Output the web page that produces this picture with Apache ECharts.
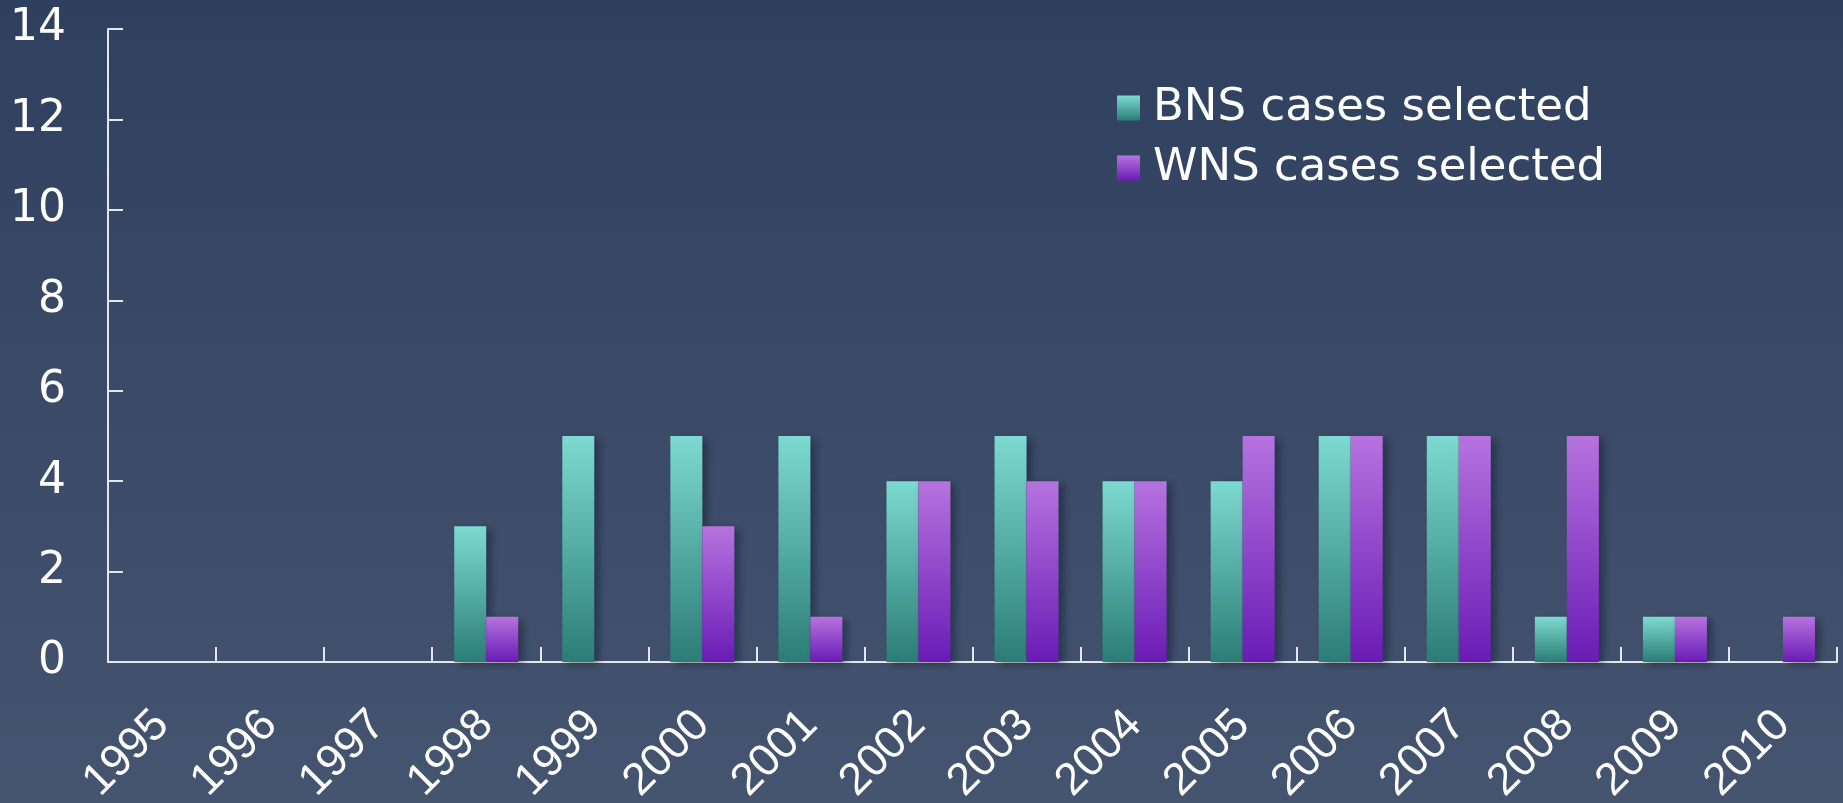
<!DOCTYPE html>
<html>
<head>
<meta charset="utf-8">
<script src="https://cdn.jsdelivr.net/npm/echarts@6/dist/echarts.min.js"></script>
<style>
	html, body { margin: 0; padding: 0; }
	#main { width: 1843px; height: 803px; }
</style>
</head>
<body>
<div id="main"></div>
<script>
	// data
	var years = ['1995', '1996', '1997', '1998', '1999', '2000', '2001', '2002',
		'2003', '2004', '2005', '2006', '2007', '2008', '2009', '2010'];
	var bnsCases = [0, 0, 0, 3, 5, 5, 5, 4, 5, 4, 4, 5, 5, 1, 1, 0];
	var wnsCases = [0, 0, 0, 1, 0, 3, 1, 4, 4, 4, 5, 5, 5, 5, 1, 1];
	var seriesNames = ['BNS cases selected', 'WNS cases selected'];

	var fontName = 'DejaVu Sans';
	var labelFont = 'Liberation Sans';
	var axisColor = '#e4e6ea';

	// vertical gradient for the bars
	var barGradient = function(top, bottom) {
		return new echarts.graphic.LinearGradient(0, 0, 0, 1, [
			{ offset: 0, color: top },
			{ offset: 1, color: bottom }
		]);
	};

	var barStyle = function(top, bottom) {
		return {
			color: barGradient(top, bottom),
			shadowColor: 'rgba(10, 20, 40, 0.45)',
			shadowBlur: 8,
			shadowOffsetX: 5,
			shadowOffsetY: 3
		};
	};

	var chart = echarts.init(document.getElementById('main'));

	var option = {
		animation: false,
		backgroundColor: barGradient('#2f405f', '#45546f'),
		grid: {
			left: 108,
			right: 6,
			top: 29,
			bottom: 141,
			containLabel: false,
			outerBoundsMode: 'none'
		},
		legend: {
			orient: 'vertical',
			left: 1112,
			top: 78,
			itemWidth: 23,
			itemHeight: 25,
			itemGap: 10,
			icon: 'rect',
			data: seriesNames,
			textStyle: {
				color: '#ffffff',
				fontFamily: fontName,
				fontSize: 45,
				lineHeight: 50,
				padding: [0, 0, 0, 8]
			}
		},
		xAxis: {
			type: 'category',
			data: years,
			axisLine: {
				lineStyle: { color: axisColor, width: 2 }
			},
			axisTick: {
				show: true,
				inside: true,
				alignWithLabel: false,
				length: 15,
				lineStyle: { color: axisColor, width: 2 }
			},
			axisLabel: {
				rotate: 45,
				margin: 56,
				color: '#ffffff',
				fontFamily: labelFont,
				fontSize: 45
			}
		},
		yAxis: {
			type: 'value',
			min: 0,
			max: 14,
			interval: 2,
			splitLine: { show: false },
			axisLine: {
				show: true,
				lineStyle: { color: axisColor, width: 2 }
			},
			axisTick: {
				show: true,
				inside: true,
				length: 15,
				lineStyle: { color: axisColor, width: 2 }
			},
			axisLabel: {
				margin: 42,
				color: '#ffffff',
				fontFamily: fontName,
				fontSize: 44
			}
		},
		series: [
			{
				name: seriesNames[0],
				type: 'bar',
				barWidth: 32,
				barGap: '0%',
				data: bnsCases,
				itemStyle: barStyle('#7ddad0', '#2b7d76')
			},
			{
				name: seriesNames[1],
				type: 'bar',
				barWidth: 32,
				barGap: '0%',
				data: wnsCases,
				itemStyle: barStyle('#b673df', '#6a1bb5')
			}
		]
	};

	chart.setOption(option);
</script>
</body>
</html>
